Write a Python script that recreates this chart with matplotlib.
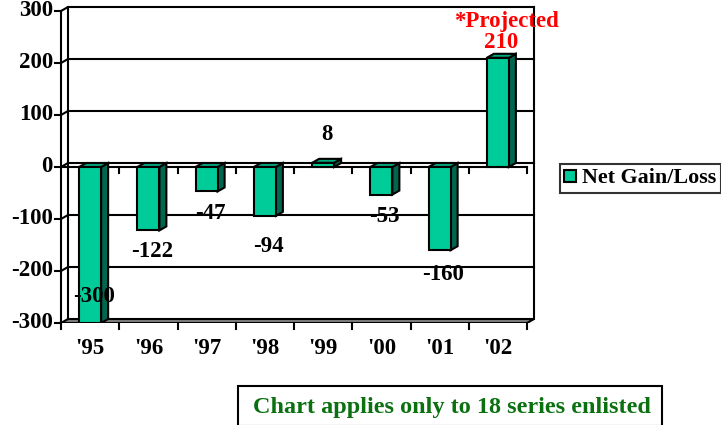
import matplotlib
matplotlib.use("Agg")
import matplotlib.pyplot as plt
from matplotlib.patches import Polygon, Rectangle, Patch
from matplotlib.lines import Line2D

# ---- data ----
categories = ["'95", "'96", "'97", "'98", "'99", "'00", "'01", "'02"]
values = [-300, -122, -47, -94, 8, -53, -160, 210]
value_labels = [str(v) for v in values]
yticks = [-300, -200, -100, 0, 100, 200, 300]
series_name = "Net Gain/Loss"
projected_note = "*Projected"
footnote = "Chart applies only to 18 series enlisted"

# ---- style ----
W, H = 721, 425
DPI = 100
FRONT = "#00CC99"
SIDE = "#006650"
TOP = "#00A880"
FLOOR = "#808080"
LW = 1.5
FONT = "Liberation Serif"
FS = 16.5
FS_LEG = 15.8
FS_NOTE = 17.5
# label vertical offsets in pixels relative to bar end (positive = up)
label_offset_px = [26, -21, -22, -31, 28, -22, -24, 15]

PX_PER_CAT = 58.25
PX_PER_UNIT = 0.52
DX = 7 / PX_PER_CAT      # depth offset in category units
DY = 4 / PX_PER_UNIT     # depth offset in value units
BW = 22 / PX_PER_CAT     # bar width

n = len(categories)
x0, x1 = -0.5, n - 0.5
y0, y1 = yticks[0], yticks[-1]

fig = plt.figure(figsize=(W / DPI, H / DPI), dpi=DPI)
left_px, bottom_px = 61, 323
right_px = left_px + (x1 + DX - x0) * PX_PER_CAT
top_px = bottom_px - (y1 + DY - y0) * PX_PER_UNIT
ax = fig.add_axes([left_px / W, 1 - bottom_px / H,
                   (right_px - left_px) / W, (bottom_px - top_px) / H])
ax.set_xlim(x0, x1 + DX)
ax.set_ylim(y0, y1 + DY)
ax.axis("off")

def line(xs, ys, z=2, lw=LW):
    ax.add_line(Line2D(xs, ys, color="black", lw=lw, zorder=z,
                       solid_capstyle="projecting", clip_on=False))

# floor
ax.add_patch(Polygon([(x0, y0), (x1, y0), (x1 + DX, y0 + DY), (x0 + DX, y0 + DY)],
                     closed=True, facecolor=FLOOR, edgecolor="black", lw=LW, zorder=1))
# back wall frame and gridlines
line([x0 + DX, x0 + DX], [y0 + DY, y1 + DY])
line([x1 + DX, x1 + DX], [y0 + DY, y1 + DY])
for t in yticks[1:]:
    line([x0, x0 + DX, x1 + DX], [t, t + DY, t + DY])
# zero plane front edge
line([x0, x1], [0, 0])
# front value axis
line([x0, x0], [y0, y1])
tick_len_x = 6 / PX_PER_CAT
for t in yticks:
    line([x0 - tick_len_x, x0], [t, t])
    ax.text(x0 - 8 / PX_PER_CAT, t, str(t), ha="right", va="center",
            fontsize=FS, fontweight="bold", family=FONT, color="black")
# category axis ticks (floor and zero level)
tick_len_y = 6 / PX_PER_UNIT
for k in range(n + 1):
    xb = x0 + k
    line([xb, xb], [y0, y0 - tick_len_y])
    if k > 0:
        line([xb, xb], [0, -tick_len_y])
for i, c in enumerate(categories):
    ax.text(i, y0 - 25 / PX_PER_UNIT, c, ha="center", va="center",
            fontsize=FS, fontweight="bold", family=FONT, color="black")

# bars
for i, v in enumerate(values):
    l, r = i - BW / 2, i + BW / 2
    top = max(v, 0)
    ax.add_patch(Polygon([(r, 0), (r + DX, DY), (r + DX, v + DY), (r, v)],
                         closed=True, facecolor=SIDE, edgecolor="black", lw=LW, zorder=3))
    ax.add_patch(Polygon([(l, top), (l + DX, top + DY), (r + DX, top + DY), (r, top)],
                         closed=True, facecolor=TOP, edgecolor="black", lw=LW, zorder=3))
    ax.add_patch(Rectangle((l, min(v, 0)), BW, abs(v), facecolor=FRONT,
                           edgecolor="black", lw=LW, zorder=4))

# data labels
for i, v in enumerate(values):
    color = "red" if i == n - 1 else "black"
    ly = v + label_offset_px[i] / PX_PER_UNIT
    ax.text(i + DX / 2, ly, value_labels[i], ha="center", va="center",
            fontsize=FS, fontweight="bold", family=FONT, color=color, zorder=6)
    if i == n - 1:
        ax.text(i + DX / 2 + 5 / PX_PER_CAT, ly + 21 / PX_PER_UNIT, projected_note,
                ha="center", va="center", fontsize=FS, fontweight="bold",
                family=FONT, color="red", zorder=6)

# legend
leg = fig.legend(handles=[Patch(facecolor=FRONT, edgecolor="black", lw=LW, label=series_name)],
                 loc="center left", bbox_to_anchor=(560 / W, 1 - 178.5 / H),
                 prop={"family": FONT, "weight": "bold", "size": FS_LEG},
                 frameon=True, fancybox=False, borderpad=0.2, handlelength=0.55,
                 handleheight=0.45, handletextpad=0.25, borderaxespad=0)
leg.get_frame().set_edgecolor("black")
leg.get_frame().set_linewidth(LW)

# footnote box
fig.patches.append(Rectangle((238 / W, 1 - 426 / H), (662 - 238) / W, (426 - 386) / H,
                             transform=fig.transFigure, facecolor="white",
                             edgecolor="black", lw=LW))
fig.text(452 / W, 1 - 407 / H, footnote, ha="center", va="center", fontsize=FS_NOTE,
         fontweight="bold", family=FONT, color="#0A7010")

fig.savefig("out.png", dpi=DPI)
